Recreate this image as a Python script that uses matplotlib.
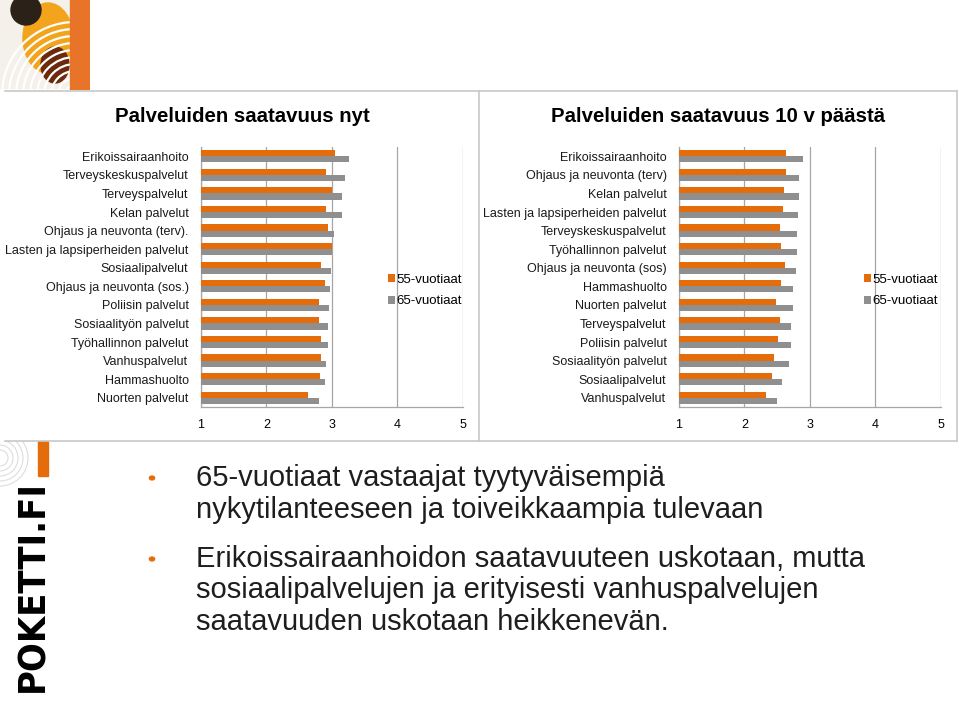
import matplotlib
matplotlib.use('Agg')
import numpy as np
from matplotlib import pyplot as plt
from matplotlib.patches import Rectangle, Circle, Ellipse, Arc

W, H = 959, 718
ORANGE = '#E46C0A'
GRAY = '#8F8F8F'
GRID = '#A6A6A6'

# chart data
left_title = 'Palveluiden saatavuus nyt'
left_cats = ['Erikoissairaanhoito', 'Terveyskeskuspalvelut', 'Terveyspalvelut',
             'Kelan palvelut', 'Ohjaus ja neuvonta (terv).',
             'Lasten ja lapsiperheiden palvelut', 'Sosiaalipalvelut',
             'Ohjaus ja neuvonta (sos.)', 'Poliisin palvelut',
             'Sosiaalityön palvelut', 'Työhallinnon palvelut', 'Vanhuspalvelut',
             'Hammashuolto', 'Nuorten palvelut']
now_55 = [3.05, 2.91, 3.01, 2.91, 2.95, 3.00, 2.84, 2.90, 2.80, 2.80, 2.84, 2.83, 2.82, 2.64]
now_65 = [3.26, 3.20, 3.16, 3.15, 3.04, 3.01, 2.99, 2.97, 2.96, 2.95, 2.94, 2.91, 2.90, 2.81]

right_title = 'Palveluiden saatavuus 10 v päästä'
right_cats = ['Erikoissairaanhoito', 'Ohjaus ja neuvonta (terv)', 'Kelan palvelut',
              'Lasten ja lapsiperheiden palvelut', 'Terveyskeskuspalvelut',
              'Työhallinnon palvelut', 'Ohjaus ja neuvonta (sos)', 'Hammashuolto',
              'Nuorten palvelut', 'Terveyspalvelut', 'Poliisin palvelut',
              'Sosiaalityön palvelut', 'Sosiaalipalvelut', 'Vanhuspalvelut']
fut_55 = [2.64, 2.64, 2.60, 2.59, 2.55, 2.56, 2.62, 2.56, 2.48, 2.54, 2.51, 2.45, 2.42, 2.33]
fut_65 = [2.89, 2.83, 2.83, 2.82, 2.81, 2.80, 2.79, 2.75, 2.74, 2.72, 2.71, 2.68, 2.58, 2.50]

series_names = ['55-vuotiaat', '65-vuotiaat']
x_ticks = [1, 2, 3, 4, 5]

bullets = ['65-vuotiaat vastaajat tyytyväisempiä\nnykytilanteeseen ja toiveikkaampia tulevaan',
           'Erikoissairaanhoidon saatavuuteen uskotaan, mutta\nsosiaalipalvelujen ja erityisesti vanhuspalvelujen\nsaatavuuden uskotaan heikkenevän.']


def fx(x):
    return x / W


def fy(y):
    return 1 - y / H


def ax_at(x0, y0, x1, y1):
    # axes placed by pixel box (top-left origin)
    return fig.add_axes([fx(x0), fy(y1), (x1 - x0) / W, (y1 - y0) / H])


fig = plt.figure(figsize=(W / 100, H / 100), dpi=100)
fig.patch.set_facecolor('white')

# slide frame lines
for (xa, ya, xb, yb) in [(5, 91, 957, 91), (5, 441, 957, 441), (479, 91, 479, 441), (957, 91, 957, 441)]:
    fig.add_artist(plt.Line2D([fx(xa), fx(xb)], [fy(ya), fy(yb)], color='#C8C8C8', lw=1.2))


def draw_chart(x0, x1, title, tx, cats, v55, v65, legx):
    ax = ax_at(x0, 147, x1, 407)
    n = len(cats)
    y = np.arange(n)
    h = 0.33
    ax.barh(y - h / 2, v55, height=h, color=ORANGE, label=series_names[0], zorder=3)
    ax.barh(y + h / 2, v65, height=h, color=GRAY, label=series_names[1], zorder=3)
    ax.set_xlim(1, 5)
    ax.set_ylim(n - 0.5, -0.5)
    ax.set_yticks(y)
    ax.set_yticklabels(cats, fontsize=9, family='Liberation Sans', color='#1a1a1a')
    ax.set_xticks(x_ticks)
    ax.set_xticklabels([str(t) for t in x_ticks], fontsize=9, family='Liberation Sans')
    ax.tick_params(axis='y', length=0, pad=9)
    ax.tick_params(axis='x', length=0, pad=9)
    ax.xaxis.grid(True, color=GRID, lw=0.9, zorder=0)
    for s in ['top', 'right']:
        ax.spines[s].set_visible(False)
    for s in ['left', 'bottom']:
        ax.spines[s].set_color(GRID)
        ax.spines[s].set_linewidth(0.9)
    fig.text(fx(tx), fy(117), title, fontsize=14.7, fontweight='bold',
             family='Liberation Sans', ha='center', va='center')
    ax.legend(loc='center left', bbox_to_anchor=((legx - x0) / (x1 - x0), (407 - 290.5) / 260),
              frameon=False, prop={'family': 'Liberation Sans', 'size': 9.5},
              handlelength=0.5, handleheight=0.6, handletextpad=0.15,
              labelspacing=0.75, borderaxespad=0)
    return ax


draw_chart(201, 462.5, left_title, 242, left_cats, now_55, now_65, 383)
draw_chart(679, 940.5, right_title, 718, right_cats, fut_55, fut_65, 859)

# bullet text
line_ys = [[478, 510], [559, 590, 622]]
for txt, ys in zip(bullets, line_ys):
    fig.add_artist(Circle((fx(152), fy(ys[0])), 2.6 / W, color=ORANGE,
                          transform=fig.transFigure))
    for line, yy in zip(txt.split('\n'), ys):
        fig.text(fx(196), fy(yy), line, fontsize=21, family='Liberation Sans',
                 color='#1e1e1e', ha='left', va='center')

# top-left picture (rough)
lg = ax_at(0, 0, 90, 90)
lg.set_xlim(0, 90)
lg.set_ylim(90, 0)
lg.axis('off')
lg.add_patch(Rectangle((0, 0), 70, 88, color='#F4F0EA', zorder=0))
lg.add_patch(Ellipse((48, 38), 50, 70, color='#F2A51C', zorder=1))
lg.add_patch(Circle((26, 10), 15, color='#2B2118', zorder=2))
lg.add_patch(Ellipse((55, 65), 28, 36, color='#6B2A0E', zorder=2))
for r in range(10, 80, 7):
    lg.add_patch(Arc((75, 95), 2 * r, 2 * r, theta1=180, theta2=270,
                     color='white', lw=1.6, zorder=3))
lg.add_patch(Rectangle((70, 0), 19, 90, color='#E8742A', zorder=4))

# bottom-left logo
bl = ax_at(0, 441, 70, 718)
bl.set_xlim(0, 70)
bl.set_ylim(718, 441)
bl.axis('off')
bl.add_patch(Rectangle((38, 441), 10, 35, color=ORANGE))
for r in range(8, 30, 5):
    bl.add_patch(Arc((0, 458), 2 * r, 2 * r, theta1=-90, theta2=90, color='#DDDDDD', lw=0.8))
logo = bl.text(33, 692, 'POKETTI.FI', rotation=90, fontsize=34, fontweight='bold',
               family=['DejaVu Sans'], fontstretch='condensed', ha='left', va='center',
               rotation_mode='anchor', color='black')
# shrink the logo text so it fits between y=480 and y=692
fig.canvas.draw()
bb = logo.get_window_extent()
logo.set_fontsize(34 * 212 / bb.height)

fig.savefig('out.png', dpi=100, facecolor='white')
